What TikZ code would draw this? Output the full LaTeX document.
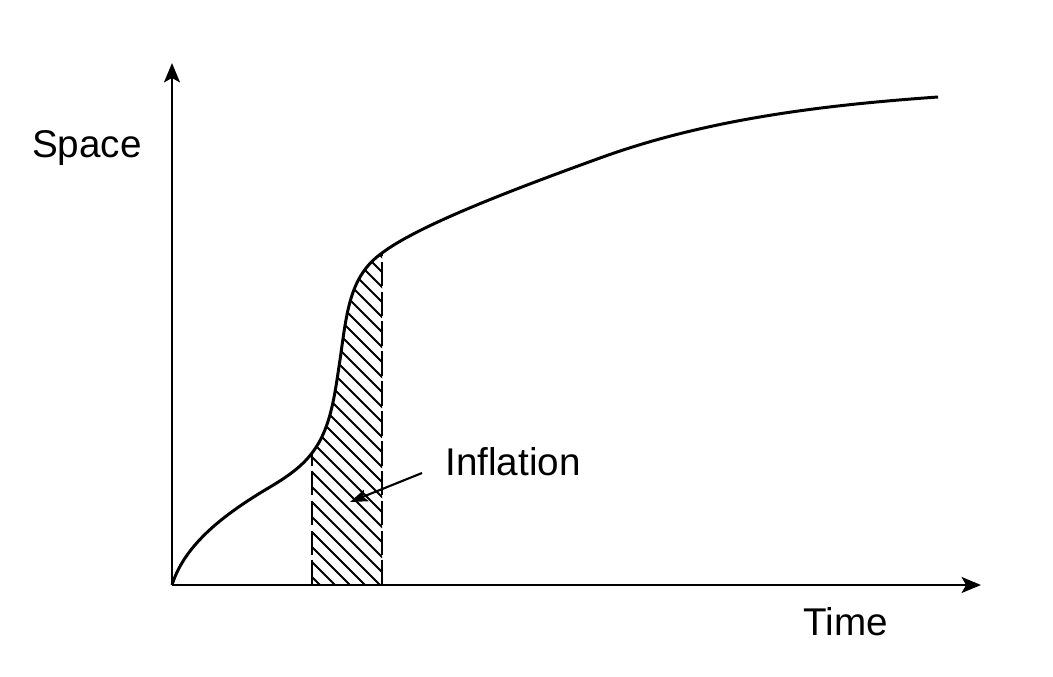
\documentclass[tikz,border=0pt]{standalone}
\usepackage{fontspec}
\setmainfont{Liberation Sans}
\usetikzlibrary{arrows.meta}

\begin{document}
\begin{tikzpicture}[x=0.02cm, y=-0.02cm,
	axis/.style={line width=1.6pt, -{Stealth[length=11pt, width=9pt, inset=2.5pt]}},
	growth/.style={line width=1.7pt},
	edge/.style={line width=1.2pt, dash pattern=on 14pt off 3pt},
	hatch/.style={line width=1.05pt},
	label/.style={inner sep=0pt, font=\fontsize{22}{26}\selectfont}]
	\useasboundingbox (0,0) rectangle (1053,676);

	% axes
	\coordinate (origin) at (172,585);
	\coordinate (ytop) at (172,63);
	\coordinate (xend) at (981,585);
	\draw[axis] (origin) -- (ytop);
	\draw[axis] (origin) -- (xend);
	\node[label, anchor=base] (space) at (87,157) {Space};
	\node[label, anchor=base] (time) at (846,635) {Time};

	% key points of the curve
	\coordinate (p1) at (265,490);
	\coordinate (p2) at (312,453);
	\coordinate (p3) at (340,360);
	\coordinate (p4) at (382,253);
	\coordinate (p5) at (600,158);
	\coordinate (p6) at (938,97);

	% inflation band
	\begin{scope}
		\clip (p2) .. controls (331.5,428) and (335,392) .. (p3)
			.. controls (347,310) and (350,276) .. (p4)
			-- (382,585) -- (312,585) -- cycle;
		\foreach \k in {-140,-125,...,280}
			\draw[hatch] (300,300+\k) -- (400,400+\k);
	\end{scope}
	\draw[edge] (312,585) -- (p2);
	\draw[edge] (382,585) -- (p4);

	% the curve
	\draw[growth] (origin) .. controls (185,543) and (227,513) .. (p1)
		.. controls (282,480) and (300,469) .. (p2)
		.. controls (331.5,428) and (335,392) .. (p3)
		.. controls (347,310) and (350,276) .. (p4)
		.. controls (418,226) and (506,192) .. (p5)
		.. controls (707,119) and (824,105) .. (p6);

	% label
	\node[label, anchor=base west] (infl) at (445,475) {Inflation};
	\coordinate (infl tail) at (422,473);
	\coordinate (infl tip) at (350,502);
	\draw[line width=1.2pt, -{Stealth[length=10pt, width=7pt, inset=2pt]}] (infl tail) -- (infl tip);
\end{tikzpicture}
\end{document}
